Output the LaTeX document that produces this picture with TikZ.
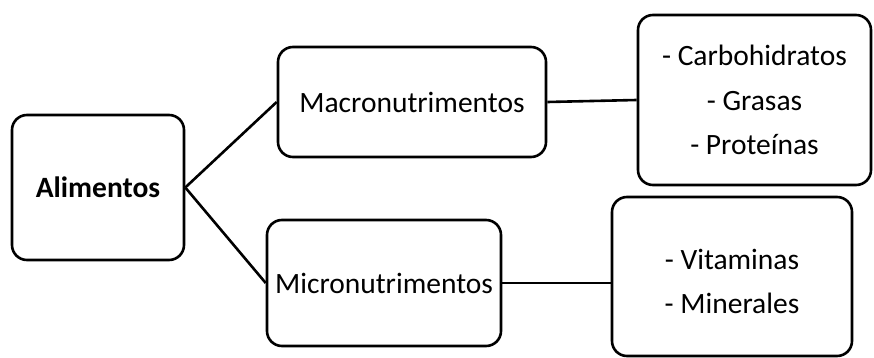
\documentclass[tikz,border=0pt]{standalone}
\usepackage{fontspec}
\setmainfont{Carlito}
\begin{document}
\begin{tikzpicture}[x=1pt,y=-1pt,
  box/.style={draw=black,line width=2.6pt,rounded corners=15pt,align=center,inner sep=0pt,
    font=\fontsize{29.5}{44.5}\selectfont},
  conn/.style={line width=2.6pt}]
\useasboundingbox (0,0) rectangle (874,358);
\node[box,minimum width=172pt,minimum height=145pt] (al) at (98,187.5) {\textbf{Alimentos}};
\node[box,minimum width=268pt,minimum height=110pt] (ma) at (412,102) {Macronutrimentos};
\node[box,minimum width=233pt,minimum height=170pt] (tr) at (754.5,100) {- Carbohidratos\\- Grasas\\- Proteínas};
\node[box,minimum width=234pt,minimum height=126pt] (mi) at (384,283) {Micronutrimentos};
\node[box,minimum width=240pt,minimum height=159pt] (br) at (732,276.5) {};
\node[font=\fontsize{29.5}{44.5}\selectfont,align=center,inner sep=0pt] (brt) at (732,281.5) {- Vitaminas\\- Minerales};
\draw[conn] (al.east) -- (ma.west);
\draw[conn] (al.east) -- (mi.west);
\draw[conn] (ma.east) -- (tr.west);
\draw[conn] (mi.east) -- (mi.east -| br.west);
\end{tikzpicture}
\end{document}
